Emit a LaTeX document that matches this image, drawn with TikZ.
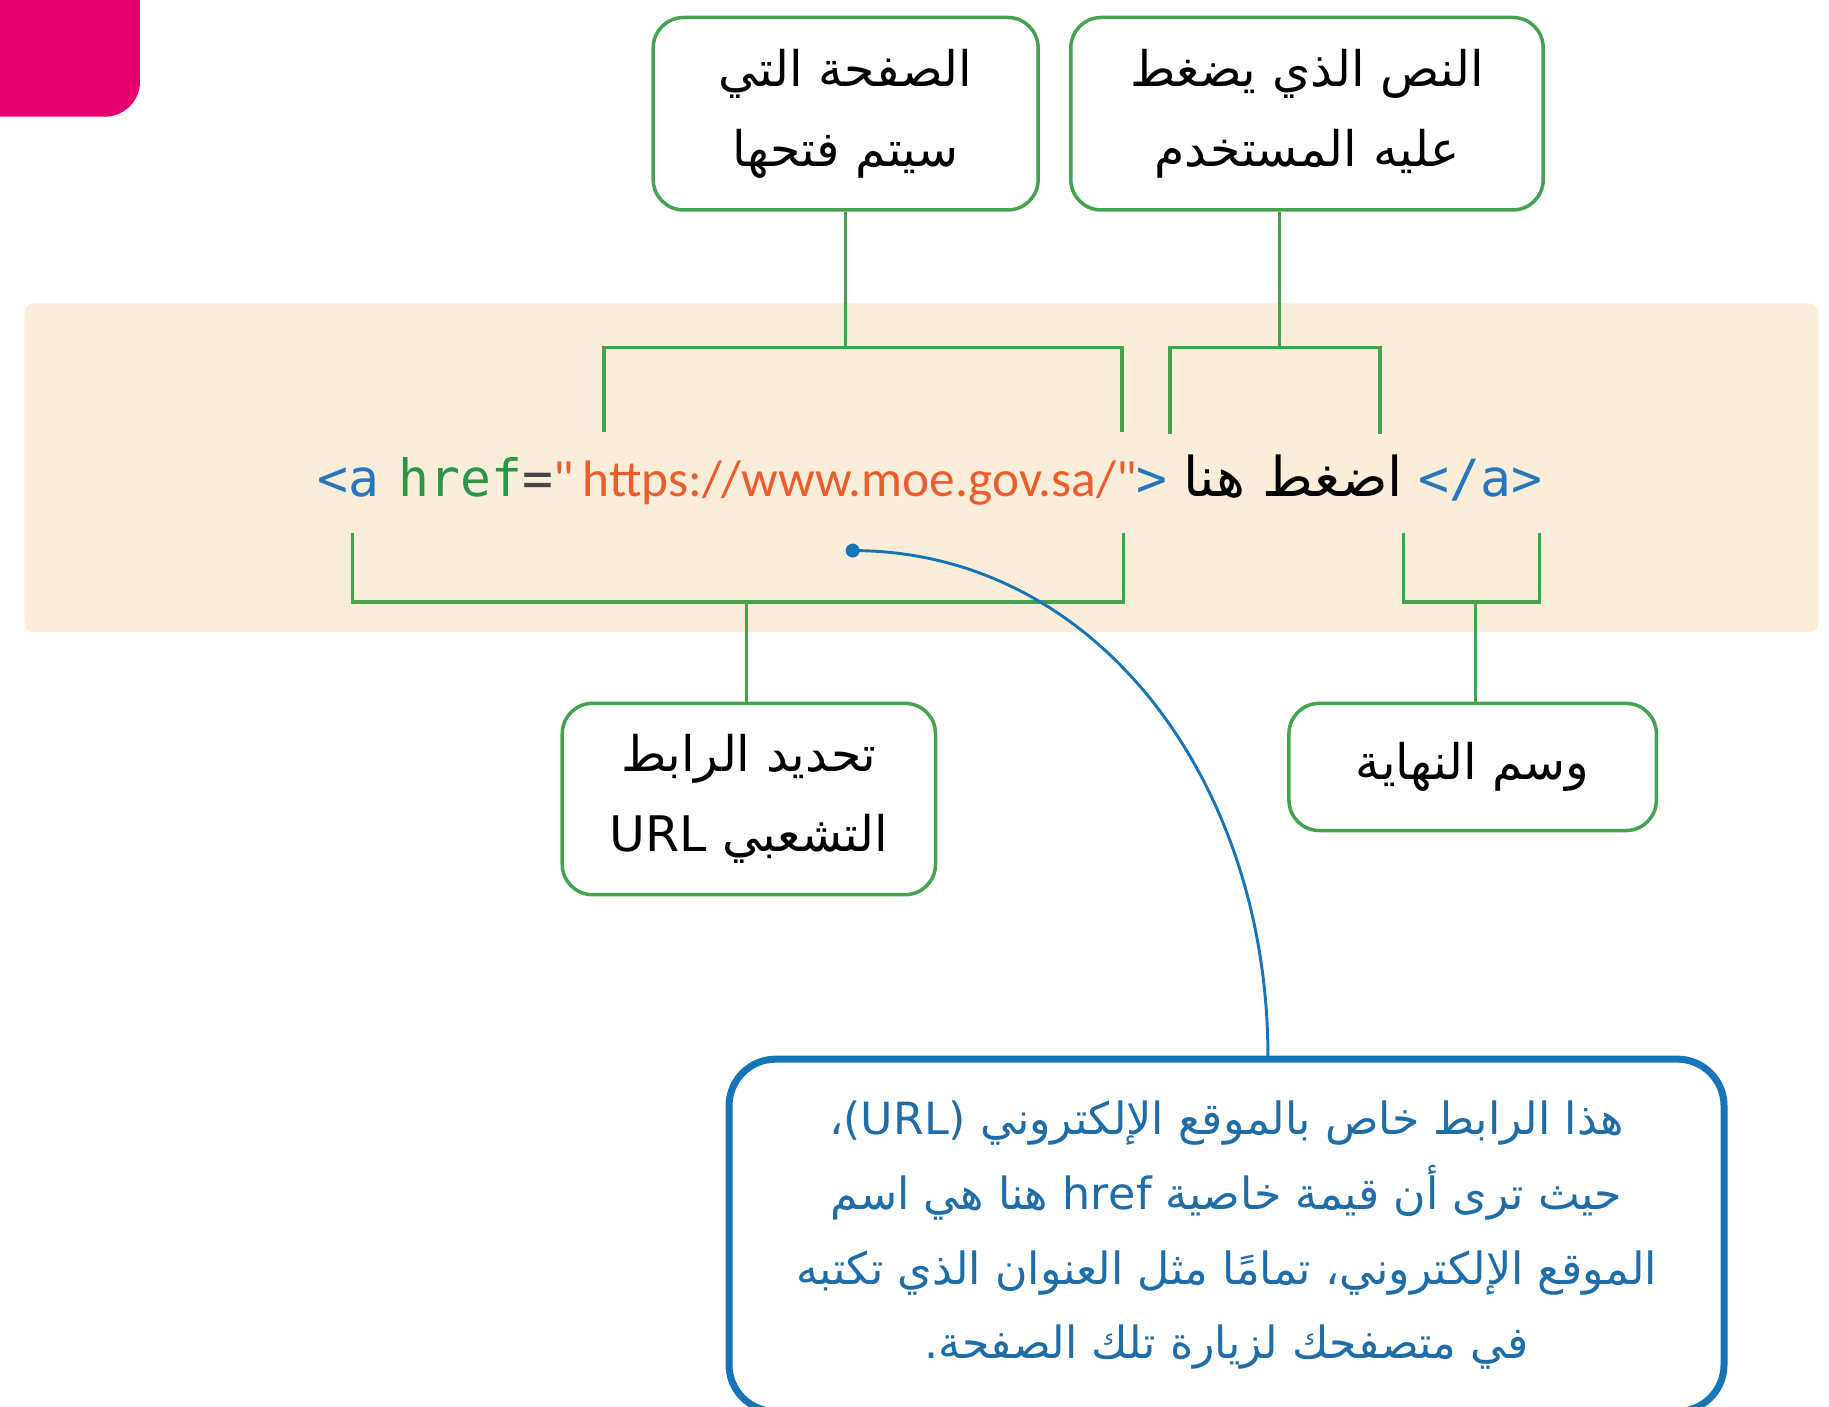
\documentclass[tikz,border=0pt]{standalone}
\usepackage{xcolor}
\usepackage{fontspec}
\usepackage{tikz}
\usetikzlibrary{positioning, calc}
\newfontfamily\arabicfont[Script=Arabic]{DejaVu Sans}
\newfontfamily\codefont{DejaVu Sans Mono}
\newfontfamily\urlfont{Carlito}
\TeXXeTstate=1
\newcommand{\artxt}[1]{\beginR#1\endR}
\definecolor{clrGreen}{RGB}{67,163,78}
\definecolor{clrBand}{RGB}{250,238,218}
\definecolor{clrPink}{RGB}{230,0,110}
\definecolor{clrBlue}{RGB}{22,116,184}
\definecolor{clrNote}{RGB}{30,108,168}
\definecolor{clrTag}{RGB}{40,118,190}
\definecolor{clrAttr}{RGB}{42,150,72}
\definecolor{clrEq}{RGB}{70,70,70}
\definecolor{clrUrl}{RGB}{236,92,44}

\begin{document}
\begin{tikzpicture}[
  x=1pt, y=-1pt,
  tagbox/.style={rectangle, rounded corners=26pt, draw=clrGreen, line width=3pt,
                 fill=white, align=center, inner sep=0pt,
                 font=\arabicfont\fontsize{42}{68}\selectfont},
  notebox/.style={rectangle, rounded corners=40pt, draw=clrBlue, line width=6pt,
                  fill=white, align=center, inner sep=0pt, text=clrNote,
                  font=\arabicfont\fontsize{38}{64}\selectfont},
  codeline/.style={inner sep=0pt, font=\fontsize{44}{50}\selectfont},
  link/.style={draw=clrGreen, line width=3pt},
  curl/.style={draw=clrBlue, line width=2.5pt}
]
\useasboundingbox (0,0) rectangle (1568,1206);

\fill[clrPink, rounded corners=30pt] (-60,-60) rectangle (120,100);
\fill[clrBand, rounded corners=8pt] (21,260) rectangle (1559,542);

\node[tagbox, minimum width=330pt, minimum height=165pt] (pagebox) at (725,97.5)
      {\artxt{الصفحة التي}\\\artxt{سيتم فتحها}};
\node[tagbox, minimum width=405pt, minimum height=165pt, right=25pt of pagebox] (clickbox)
      {\artxt{النص الذي يضغط}\\\artxt{عليه المستخدم}};
\node[tagbox, minimum width=320pt, minimum height=164pt] (urlbox) at (642,685)
      {\artxt{تحديد الرابط}\\\artxt{التشعبي \beginL URL\endL}};
\node[tagbox, minimum width=315pt, minimum height=109pt] (endbox) at (1262.5,657.5)
      {\artxt{وسم النهاية}};

\node[codeline] (code) at (797,412)
      {\textcolor{clrTag}{\codefont <a}\hspace{17pt}\textcolor{clrAttr}{\codefont href}%
       \textcolor{clrEq}{\codefont =}\textcolor{clrUrl}{\urlfont "\,https://www.moe.gov.sa/"}%
       \textcolor{clrTag}{\codefont >} {\arabicfont\fontsize{47}{50}\selectfont\beginR اضغط هنا\endR} %
       \textcolor{clrTag}{\codefont </a>}};

\node[notebox, minimum width=853pt, minimum height=302pt] (note) at (1051.5,1059)
      {\artxt{هذا الرابط خاص بالموقع الإلكتروني \beginL(URL)\endL،}\\
       \artxt{حيث ترى أن قيمة خاصية \beginL href\endL{} هنا هي اسم}\\
       \artxt{الموقع الإلكتروني، تمامًا مثل العنوان الذي تكتبه}\\
       \artxt{في متصفحك لزيارة تلك الصفحة.}};

% bracket ends over and under the code line
\coordinate (pagejoin)  at (725,298);
\coordinate (urlL)      at (518,370);
\coordinate (urlR)      at (962,370);
\coordinate (clickjoin) at (1097,298);
\coordinate (textL)     at (1003,372);
\coordinate (textR)     at (1183,372);
\coordinate (hrefjoin)  at (640,516);
\coordinate (hrefL)     at (302,457);
\coordinate (hrefR)     at (963,457);
\coordinate (endjoin)   at (1265,516);
\coordinate (endL)      at (1203,457);
\coordinate (endR)      at (1320,457);
\coordinate (notetip)   at (1087,906);

\draw[link] (pagebox.south) -- (pagejoin);
\draw[link] (urlL) |- (pagejoin) -| (urlR);
\draw[link] (clickbox.south -| clickjoin) -- (clickjoin);
\draw[link] (textL) |- (clickjoin) -| (textR);
\draw[link] (hrefL) |- (hrefjoin) -| (hrefR);
\draw[link] (hrefjoin) -- (urlbox.north -| hrefjoin);
\draw[link] (endL) |- (endjoin) -| (endR);
\draw[link] (endjoin) -- (endbox.north -| endjoin);

\fill[clrBlue] (731,472) circle (6pt) coordinate (urldot);
\draw[curl] (urldot) .. controls (940,472) and (1087,670) .. (notetip);

\end{tikzpicture}
\end{document}
